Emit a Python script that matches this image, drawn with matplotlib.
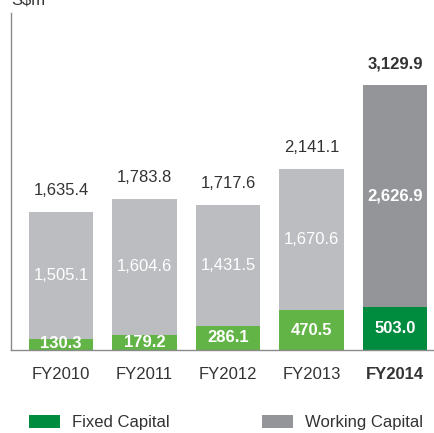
import matplotlib
matplotlib.use("Agg")
import matplotlib.pyplot as plt

years = ["FY2010", "FY2011", "FY2012", "FY2013", "FY2014"]
fixed_capital = [130.3, 179.2, 286.1, 470.5, 503.0]
working_capital = [1505.1, 1604.6, 1431.5, 1670.6, 2626.9]
totals = [1635.4, 1783.8, 1717.6, 2141.1, 3129.9]

plt.rcParams['font.family'] = ['Liberation Sans', 'DejaVu Sans']

green_old, green_new = '#62B446', '#008C3E'
grey_old, grey_new = '#BCBDC1', '#939598'
text_col = '#333333'

fig = plt.figure(figsize=(4.35, 4.33), dpi=100)
ax = fig.add_axes([11 / 435, 1 - 350 / 433, 1 - 11 / 435, 337 / 433])

x = list(range(len(years)))
last = len(years) - 1
fixed_cols = [green_new if i == last else green_old for i in x]
work_cols = [grey_new if i == last else grey_old for i in x]

fixed_bars = ax.bar(x, fixed_capital, width=0.77, color=fixed_cols, linewidth=0)
work_bars = ax.bar(x, working_capital, width=0.77, bottom=fixed_capital,
                   color=work_cols, linewidth=0)

for i in x:
    bold = 'bold' if i == last else 'normal'
    # total on top of each stack
    ax.annotate(f"{totals[i]:,.1f}", (i, totals[i]), xytext=(0, 10),
                textcoords='offset points', ha='center', va='bottom',
                fontsize=12, color=text_col, fontweight=bold)
    # working capital in the middle of the grey part
    ax.text(i, fixed_capital[i] + working_capital[i] / 2,
            f"{working_capital[i]:,.1f}", ha='center', va='center',
            fontsize=12, color='white', fontweight=bold)
    # fixed capital near the bottom
    ax.text(i, max(fixed_capital[i] / 2, 80), f"{fixed_capital[i]:,.1f}",
            ha='center', va='center', fontsize=12, color='white',
            fontweight='bold')

ax.set_xlim(-0.6, 4.48)
ax.set_ylim(0, 3985)
ax.set_yticks([])
ax.set_xticks(x)
ax.set_xticklabels(years, fontsize=12, color=text_col)
ax.get_xticklabels()[last].set_fontweight('bold')
ax.tick_params(axis='x', length=0, pad=12)

for side in ['top', 'right']:
    ax.spines[side].set_visible(False)
for side in ['left', 'bottom']:
    ax.spines[side].set_color('#8a8a8a')
    ax.spines[side].set_linewidth(1)

fig.text(11 / 435, 1 - 5 / 433, "S$m", fontsize=12, color=text_col,
         va='baseline', ha='left')

fig.legend([fixed_bars[last], work_bars[last]], ["Fixed Capital", "Working Capital"],
           loc='center left', bbox_to_anchor=(29 / 435, 1 - 422.5 / 433),
           ncol=2, frameon=False, fontsize=12, handlelength=1.85,
           handleheight=0.78, handletextpad=0.7, columnspacing=5.6,
           borderpad=0, borderaxespad=0, labelcolor=text_col)

fig.savefig("out.png", dpi=100)
